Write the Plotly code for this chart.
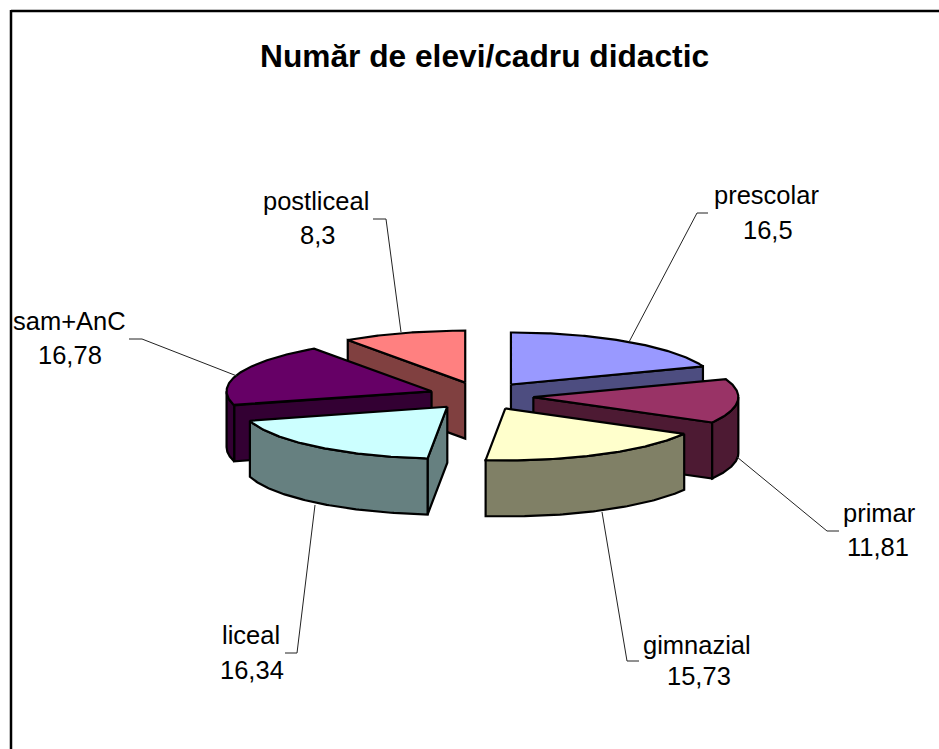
import numpy as np
import plotly.graph_objects as go

# Data
categories = ["prescolar", "primar", "gimnazial", "liceal", "sam+AnC", "postliceal"]
values = [16.5, 11.81, 15.73, 16.34, 16.78, 8.3]
value_labels = ["16,5", "11,81", "15,73", "16,34", "16,78", "8,3"]
top_colors = ["#9999FF", "#993366", "#FFFFCC", "#CCFFFF", "#660066", "#FF8080"]
side_colors = ["#4D4D80", "#4D1A33", "#808066", "#668080", "#330033", "#804040"]
title_text = "Număr de elevi/cadru didactic"

# Label placement: name centre x, name baseline y, value centre x, value baseline y
name_xs = [766, 879, 697, 251, 69, 316]
name_ys = [203, 521, 653, 643, 329, 209]
value_xs = [768, 878, 699, 252, 70, 317]
value_ys = [238, 555, 684, 678, 363, 243]
# Leader lines
leader_xs = [[708, 697, 629], [839, 827, 737], [639, 627, 602], [285, 297, 315], [129, 142, 237], [373, 386, 401]]
leader_ys = [[213, 213, 342], [531, 531, 457], [661, 661, 512], [653, 653, 505], [339, 339, 376], [219, 219, 332]]

# Projection of the tilted pie
CX, CY = 481, 396
RX, RY = 205, 52
EX, EY = 52.5, 14
DEPTH = 56
W, H = 939, 749

fig = go.Figure()


def point(ax, ay, deg):
    t = np.radians(deg)
    return ax + RX * np.sin(t), ay - RY * np.cos(t)


def poly(xs, ys, color):
    xs, ys = list(xs), list(ys)
    fig.add_trace(go.Scatter(x=xs + xs[:1], y=ys + ys[:1], mode="lines", fill="toself",
                             fillcolor=color, line=dict(color="black", width=2.2, shape="linear"),
                             hoverinfo="skip", showlegend=False))


total = sum(values)
edges = np.concatenate([[0], np.cumsum(values)]) / total * 360
# painter's order: back slices first
draw_order = [0, 5, 4, 1, 3, 2]
for i in draw_order:
    a, b = edges[i], edges[i + 1]
    mid = np.radians((a + b) / 2)
    ax = CX + EX * np.sin(mid)
    ay = CY - EY * np.cos(mid)
    # cut walls
    for deg, sign in ((a, -1), (b, 1)):
        if sign * np.sin(np.radians(deg)) > 1e-6:
            px, py = point(ax, ay, deg)
            poly([ax, px, px, ax], [ay, py, py + DEPTH, ay + DEPTH], side_colors[i])
    # outer wall: only the part facing the viewer
    lo, hi = max(a, 90), min(b, 270)
    if hi > lo:
        ds = np.linspace(lo, hi, 80)
        xs, ys = point(ax, ay, ds)
        poly(np.r_[xs, xs[::-1]], np.r_[ys, ys[::-1] + DEPTH], side_colors[i])
    # top face
    ds = np.linspace(a, b, 120)
    xs, ys = point(ax, ay, ds)
    poly(np.r_[ax, xs], np.r_[ay, ys], top_colors[i])

for lx, ly in zip(leader_xs, leader_ys):
    fig.add_trace(go.Scatter(x=lx, y=ly, mode="lines", line=dict(color="#222222", width=1),
                             hoverinfo="skip", showlegend=False))

annotations = []
FONT = "Liberation Sans, Arial, sans-serif"
OFF = 8
for nm, vl, nx, ny, vx, vy in zip(categories, value_labels, name_xs, name_ys, value_xs, value_ys):
    for text, x, y in ((nm, nx, ny), (vl, vx, vy)):
        annotations.append(dict(x=x, y=y - OFF, text=text, showarrow=False, xanchor="center", yanchor="middle",
                                font=dict(family=FONT, size=25.5, color="black")))
annotations.append(dict(x=484, y=56, text="<b>%s</b>" % title_text, showarrow=False, xanchor="center", yanchor="middle",
                        font=dict(family=FONT, size=31.7, color="black")))

shapes = [
    dict(type="line", x0=11, x1=W, y0=11, y1=11, line=dict(color="black", width=2.5)),
    dict(type="line", x0=11, x1=11, y0=10, y1=H, line=dict(color="black", width=2.5)),
]

fig.update_layout(
    width=W, height=H, margin=dict(l=0, r=0, t=0, b=0),
    paper_bgcolor="white", plot_bgcolor="white", showlegend=False,
    xaxis=dict(range=[0, W], visible=False, fixedrange=True),
    yaxis=dict(range=[H, 0], visible=False, fixedrange=True),
    annotations=annotations, shapes=shapes,
)
fig.write_html("out.html", config={"displayModeBar": False},
               post_script="document.body.style.margin='0';document.body.style.overflow='hidden';")
